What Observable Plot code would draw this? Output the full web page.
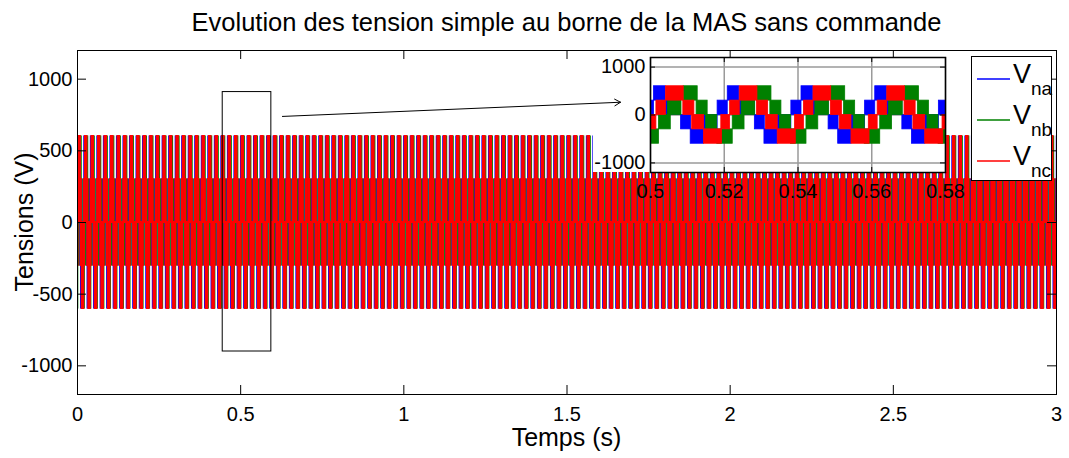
<!DOCTYPE html>
<html><head><meta charset="utf-8">
<script src="https://cdn.jsdelivr.net/npm/d3@7"></script>
<script src="https://cdn.jsdelivr.net/npm/@observablehq/plot@0.6"></script>
<style>
body{margin:0;background:#fff}
#root{position:relative;width:1069px;height:458px;overflow:hidden;font-family:"Liberation Sans",Arial,Helvetica,sans-serif}
#root > svg, #root > div{position:absolute}
</style></head><body><div id="root"></div>
<script>
// ---------- data ----------
const periodMs = 20;          // one period of the phase voltages (ms)
const nPeriods = 151;         // periods covering 0 .. 3 s
const seriesKeys = ["na", "nb", "nc"];
const seriesColors = ["#0000ff", "#008000", "#ff0000"];
// blocks in one period: start (ms), end (ms), voltage level (V)
const vnaStart = [-1.8, 0.95, 4.1, 8.3, 10.9, 14.5];
const vnaEnd   = [0.95, 4.1, 8.3, 11.0, 14.5, 18.2];
const vnaLevel = [300, 600, 300, -300, -600, -300];
const vnbStart = [-1.9, 2.3, 4.7, 9.0, 12.5, 15.1];
const vnbEnd   = [2.3, 5.5, 8.4, 12.8, 15.5, 18.1];
const vnbLevel = [-600, -300, 300, 600, 300, -300];
const vncStart = [-0.8, 1.6, 4.2, 8.9, 11.3, 14.5];
const vncEnd   = [1.6, 4.2, 9.0, 11.9, 14.5, 19.4];
const vncLevel = [-300, 300, 600, 300, -300, -600];
const stepV = 300;            // height of each block (one voltage step)
const xTicks = [0, 0.5, 1, 1.5, 2, 2.5, 3];
const yTicks = [-1000, -500, 0, 500, 1000];
const insetXTicks = [0.5, 0.52, 0.54, 0.56, 0.58];
const insetYTicks = [-1000, 0, 1000];
const zoomBox = [{x1: 0.445, x2: 0.594, y1: -900, y2: 910}];
const arrowLine = [{x1: 0.628, y1: 740, x2: 1.664, y2: 839}];
const titleText = "Evolution des tension simple au borne de la MAS sans commande";
const xLabel = "Temps (s)";
const yLabel = "Tensions (V)";

// ---------- build rectangles ----------
function buildBlocks(starts, ends, levels) {
  const out = [];
  for (let k = 0; k < nPeriods; k++) {
    const t0 = k * periodMs;
    for (let i = 0; i < starts.length; i++) {
      const lv = levels[i];
      out.push({
        x1: (t0 + starts[i]) / 1000,
        x2: (t0 + ends[i]) / 1000,
        y1: lv,
        y2: lv - Math.sign(lv) * stepV
      });
    }
  }
  return out;
}
const phaseBlocks = [
  buildBlocks(vnaStart, vnaEnd, vnaLevel),
  buildBlocks(vnbStart, vnbEnd, vnbLevel),
  buildBlocks(vncStart, vncEnd, vncLevel)
];
const mainStroke = [1.1, 1.1, 2];

const FONT = '"Liberation Sans", Arial, Helvetica, sans-serif';
const root = document.getElementById("root");
const fmt = d => String(d);

// ---------- main chart ----------
const W = 1069, H = 458, mT = 50, mL = 77, mR = 13, mB = 64;
const pw = W - mL - mR, ph = H - mT - mB;
const main = Plot.plot({
  width: W, height: H,
  marginTop: mT, marginLeft: mL, marginRight: mR, marginBottom: mB,
  x: {domain: [0, 3]},
  y: {domain: [-1200, 1200]},
  style: {fontFamily: FONT, fontSize: "20px", color: "black", background: "white"},
  marks: [
    ...phaseBlocks.map((b, i) => Plot.rect(b, {x1: "x1", x2: "x2", y1: "y1", y2: "y2", fill: seriesColors[i], stroke: seriesColors[i], strokeWidth: mainStroke[i], clip: true})),
    Plot.rect(zoomBox, {x1: "x1", x2: "x2", y1: "y1", y2: "y2", fill: "none", stroke: "black", strokeWidth: 1}),
    Plot.arrow(arrowLine, {x1: "x1", y1: "y1", x2: "x2", y2: "y2", stroke: "black", strokeWidth: 1, headLength: 10}),
    Plot.frame({stroke: "black"}),
    Plot.tickX(xTicks, {x: d => d, insetTop: ph - 9, stroke: "black"}),
    Plot.tickX(xTicks, {x: d => d, insetBottom: ph - 9, stroke: "black"}),
    Plot.tickY(yTicks, {y: d => d, insetRight: pw - 9, stroke: "black"}),
    Plot.tickY(yTicks, {y: d => d, insetLeft: pw - 9, stroke: "black"}),
    Plot.axisX(xTicks, {tickSize: 0, tickPadding: 12, tickFormat: fmt, label: null, fontSize: 20}),
    Plot.axisY(yTicks, {tickSize: 0, tickPadding: 5, tickFormat: fmt, label: null, fontSize: 20})
  ]
});
main.style.left = "0px"; main.style.top = "0px";
root.appendChild(main);

// white patch left of the inset
const patch = document.createElement("div");
Object.assign(patch.style, {left: "593px", top: "125px", width: "57px", height: "47px", background: "white"});
root.appendChild(patch);

// ---------- inset (zoom 0.5 .. 0.58 s) ----------
const iW = 375, iH = 160, iT = 7, iL = 65, iR = 15, iB = 38;
const ipw = iW - iL - iR, iph = iH - iT - iB;
const insetBlocks = phaseBlocks.map(b => b.filter(d => d.x2 > 0.49 && d.x1 < 0.59));
const inset = Plot.plot({
  width: iW, height: iH,
  marginTop: iT, marginLeft: iL, marginRight: iR, marginBottom: iB,
  x: {domain: [0.5, 0.58]},
  y: {domain: [-1200, 1200]},
  style: {fontFamily: FONT, fontSize: "20px", color: "black", background: "transparent", overflow: "visible"},
  marks: [
    Plot.frame({fill: "white"}),
    Plot.gridX(insetXTicks, {stroke: "#9a9a9a", strokeOpacity: 1, strokeWidth: 1.5}),
    Plot.gridY(insetYTicks, {stroke: "#9a9a9a", strokeOpacity: 1, strokeWidth: 1.5}),
    ...insetBlocks.map((b, i) => Plot.rect(b, {x1: "x1", x2: "x2", y1: "y1", y2: "y2", fill: seriesColors[i], stroke: seriesColors[i], strokeWidth: 0.8, clip: true})),
    Plot.frame({stroke: "black", strokeWidth: 1.5}),
    Plot.tickX(insetXTicks, {x: d => d, insetTop: iph - 5, stroke: "black"}),
    Plot.tickX(insetXTicks, {x: d => d, insetBottom: iph - 5, stroke: "black"}),
    Plot.tickY(insetYTicks, {y: d => d, insetRight: ipw - 5, stroke: "black"}),
    Plot.tickY(insetYTicks, {y: d => d, insetLeft: ipw - 5, stroke: "black"}),
    Plot.axisX(insetXTicks, {tickSize: 0, tickPadding: 11, tickFormat: fmt, label: null, fontSize: 20}),
    Plot.axisY(insetYTicks, {tickSize: 0, tickPadding: 5, tickFormat: fmt, label: null, fontSize: 20})
  ]
});
inset.style.left = "585px"; inset.style.top = "50px";
root.appendChild(inset);

// ---------- overlay: title, axis labels, legend ----------
const ov = d3.select(root).append("svg")
  .attr("width", W).attr("height", H)
  .style("left", "0px").style("top", "0px")
  .style("font-family", FONT).style("pointer-events", "none");
ov.append("text").attr("x", mL + pw / 2).attr("y", 31).attr("text-anchor", "middle")
  .attr("font-size", 25.5).text(titleText);
ov.append("text").attr("x", mL + pw / 2).attr("y", 446).attr("text-anchor", "middle")
  .attr("font-size", 25).text(xLabel);
ov.append("text").attr("transform", `translate(33,${mT + ph / 2}) rotate(-90)`).attr("text-anchor", "middle")
  .attr("font-size", 25).text(yLabel);

const lg = ov.append("g").attr("transform", "translate(971,56)");
lg.append("rect").attr("x", 0.5).attr("y", 0.5).attr("width", 80).attr("height", 124)
  .attr("fill", "white").attr("stroke", "black");
seriesKeys.forEach((k, i) => {
  const cy = 23 + i * 41;
  lg.append("line").attr("x1", 6).attr("x2", 39).attr("y1", cy).attr("y2", cy)
    .attr("stroke", seriesColors[i]).attr("stroke-width", 1.5);
  const t = lg.append("text").attr("x", 42).attr("y", cy + 4).attr("font-size", 27);
  t.append("tspan").text("V");
  t.append("tspan").attr("font-size", 19).attr("dy", 12).text(k);
});
</script>
</body></html>
